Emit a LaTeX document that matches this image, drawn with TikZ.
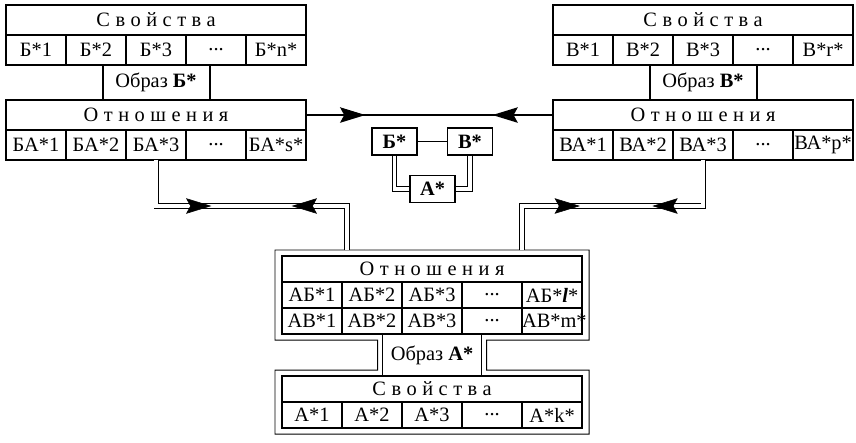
\documentclass[tikz,border=0pt]{standalone}
\usepackage{fontspec}
\setmainfont{Liberation Serif}
\newfontfamily\spaced[LetterSpace=27]{Liberation Serif}
\usepackage{tikz}
\usetikzlibrary{arrows.meta,positioning,calc,decorations.markings}
\newcommand{\dsize}{\fontsize{14.5}{16}\selectfont}
\newcommand{\cellrow}[8][]{%
  \node[cell,#1,anchor=north west] (#21) at (#3) {#4};
  \node[cell,#1,right=0pt of #21] (#22) {#5};
  \node[cell,#1,right=0pt of #22] (#23) {#6};
  \node[cell,#1,right=0pt of #23] (#24) {#7};
  \node[cell,#1,right=0pt of #24] (#25) {#8};
}
\tikzset{
  cell/.style={draw,line width=0.9pt,outer sep=0pt,inner sep=0pt,text width=1.5cm,align=center,minimum height=0.75cm},
  hdr/.style={cell,text width=7.5cm,font=\spaced\dsize},
  obraz/.style={draw,line width=1.4pt,outer sep=0pt,inner sep=0pt,minimum width=2.675cm,minimum height=0.875cm},
  frame/.style={line width=1.6pt},
  sbox/.style={draw,line width=1.2pt,minimum width=1.125cm,minimum height=0.675cm,inner sep=0pt,font=\bfseries\dsize},
  dbl/.style={double,double distance=2.4pt,line width=0.6pt},
  flow/.style 2 args={postaction={decorate},decoration={markings,
    mark=at position #1 with {\arrow{Stealth[length=18pt,width=11pt,inset=3pt]}},
    mark=at position #2 with {\arrowreversed{Stealth[length=18pt,width=11pt,inset=3pt]}}}},
}
\begin{document}
\begin{tikzpicture}[x=0.025cm,y=-0.025cm,font=\dsize]
  \useasboundingbox (0,0) rectangle (856,442);
  % object B*
  \node[hdr,anchor=north west] (propB) at (6,5) {Свойства};
  \cellrow{b}{propB.south west}{Б*1}{Б*2}{Б*3}{...}{Б*n*}
  \node[obraz,below=0pt of b3] (obrB) {Образ \textbf{Б*}};
  \node[hdr,below=0pt of obrB] (relB) {Отношения};
  \cellrow{ba}{relB.south west}{БА*1}{БА*2}{БА*3}{...}{БА*s*}
  \draw[frame] (propB.north west) rectangle (b5.south east);
  \draw[frame] (relB.north west) rectangle (ba5.south east);

  % object V*
  \node[hdr,anchor=north west] (propV) at (553,5) {Свойства};
  \cellrow{v}{propV.south west}{В*1}{В*2}{В*3}{...}{В*r*}
  \node[obraz,below=0pt of v3] (obrV) {Образ \textbf{В*}};
  \node[hdr,below=0pt of obrV] (relV) {Отношения};
  \cellrow{va}{relV.south west}{ВА*1}{ВА*2}{ВА*3}{...}{ВА*p*}
  \draw[frame] (propV.north west) rectangle (v5.south east);
  \draw[frame] (relV.north west) rectangle (va5.south east);

  % object A*
  \node[hdr,anchor=north west,minimum height=0.65cm] (relA) at (282,256) {Отношения};
  \cellrow[minimum height=0.65cm]{ab}{relA.south west}{АБ*1}{АБ*2}{АБ*3}{...}{АБ*\textbf{\textit{l}}*}
  \cellrow[minimum height=0.65cm]{av}{ab1.south west}{АВ*1}{АВ*2}{АВ*3}{...}{АВ*m*}
  \node[obraz,line width=1pt,minimum width=2.475cm,minimum height=1.05cm,below=0pt of av3] (obrA) {Образ \textbf{А*}};
  \node[hdr,minimum height=0.65cm,below=0pt of obrA] (propA) {Свойства};
  \cellrow[minimum height=0.65cm]{a}{propA.south west}{А*1}{А*2}{А*3}{...}{А*k*}
  \draw[line width=1.2pt] (relA.north west) rectangle (av5.south east);
  \draw[line width=1.2pt] (propA.north west) rectangle (a5.south east);

  % outer contour of A*
  \coordinate (fTL) at ($(relA.north west)+(-7,-6)$);
  \coordinate (fTR) at ($(relA.north east)+(7,-6)$);
  \coordinate (fBR) at ($(av5.south east)+(7,6)$);
  \coordinate (fBL) at ($(av1.south west)+(-7,6)$);
  \coordinate (gTL) at ($(propA.north west)+(-7,-6)$);
  \coordinate (gTR) at ($(propA.north east)+(7,-6)$);
  \coordinate (gBR) at ($(a5.south east)+(7,6)$);
  \coordinate (gBL) at ($(a1.south west)+(-7,6)$);
  \coordinate (oL) at ($(obrA.west)+(-5,0)$);
  \coordinate (oR) at ($(obrA.east)+(5,0)$);
  \draw[line width=0.7pt] (fTL) -- (fTR) -- (fBR) -- (oR |- fBR) -- (oR |- gTR) -- (gTR)
    -- (gBR) -- (gBL) -- (gTL) -- (oL |- gTL) -- (oL |- fBL) -- (fBL) -- cycle;

  % scheme B* - V* - A*
  \node[sbox] (sb) at (394.5,141.5) {Б*};
  \node[sbox] (sv) at (470,141.5) {В*};
  \node[sbox] (sa) at (432.5,189) {А*};
  \draw[line width=0.8pt] (sb) -- (sv);
  \draw[dbl] (sb.south) |- (sa.west);
  \draw[dbl] (sv.south) |- (sa.east);

  % links
  \draw[line width=0.8pt,flow={0.24}{0.755}] (relB.east) -- (relV.west);
  \coordinate (jl) at (347,250);
  \coordinate (jr) at (522,250);
  \coordinate (kl1) at (ba3.south |- 0,206);
  \coordinate (kl2) at (jl |- 0,206);
  \coordinate (kr1) at (jr |- 0,206);
  \coordinate (kr2) at (va3.south |- 0,206);
  \draw[dbl] (ba3.south) -- (kl1) -- (kl2) -- (jl);
  \path[flow={0.29}{0.71}] (kl1) -- (kl2);
  \draw[dbl] (jr) -- (kr1) -- (kr2) -- (va3.south);
  \path[flow={0.32}{0.72}] (kr1) -- (kr2);
\end{tikzpicture}
\end{document}
